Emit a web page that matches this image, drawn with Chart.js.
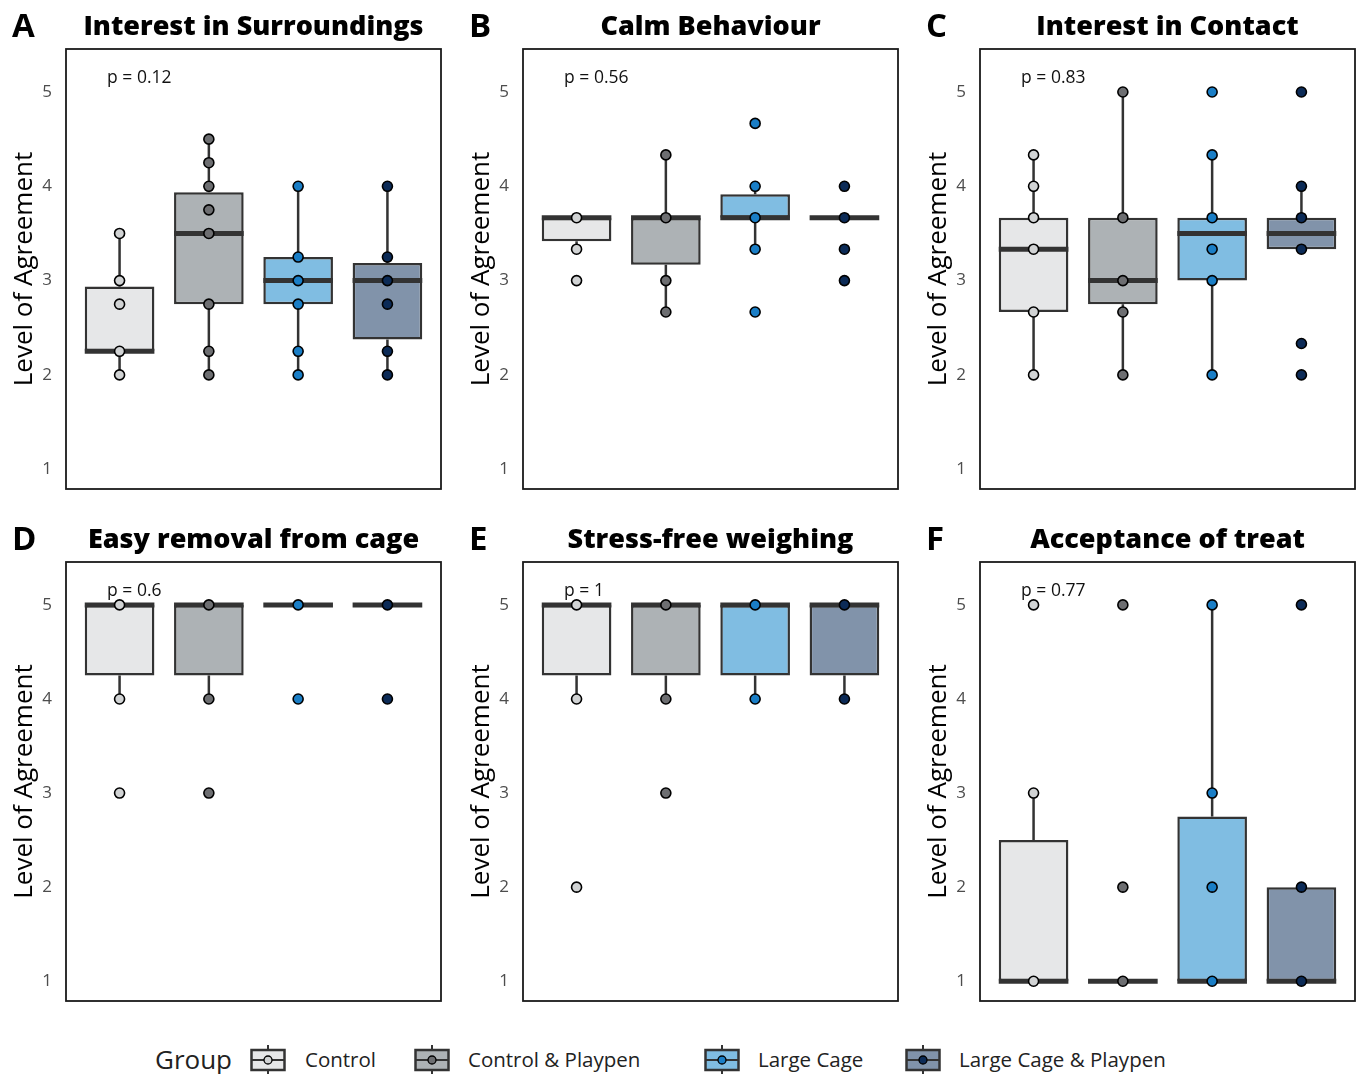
<!DOCTYPE html>
<html><head><meta charset="utf-8">
<script src="https://cdn.jsdelivr.net/npm/chart.js@4.4.1/dist/chart.umd.min.js"></script>
<style>
body{margin:0;background:#fff;}
#wrap{position:relative;width:1357px;height:1074px;overflow:hidden;font-family:"Open Sans",sans-serif;background:#fff;}
#wrap canvas{position:absolute;}
.letter{position:absolute;font-weight:700;font-size:33px;color:#000;line-height:1;}
.title{position:absolute;font-weight:800;font-size:27px;color:#000;text-align:center;line-height:1;white-space:nowrap;}
.lg{position:absolute;font-size:20.5px;color:#222;line-height:1;white-space:nowrap;}
.lgicon{position:absolute;}
</style></head>
<body><div id="wrap"></div>
<script>
// ---------- data ----------
const groups = ['Control', 'Control & Playpen', 'Large Cage', 'Large Cage & Playpen'];
const panelLetters = ['A', 'B', 'C', 'D', 'E', 'F'];
const panelTitles = ['Interest in Surroundings', 'Calm Behaviour', 'Interest in Contact',
                     'Easy removal from cage', 'Stress-free weighing', 'Acceptance of treat'];
const pLabels = ['p = 0.12', 'p = 0.56', 'p = 0.83', 'p = 0.6', 'p = 1', 'p = 0.77'];
const yTicks = [1, 2, 3, 4, 5];
const yAxisTitle = 'Level of Agreement';
const legendTitle = 'Group';

// box statistics per panel (A..F), one value per group
const boxQ1 = [
  [2.25, 2.75, 2.75, 2.375],
  [3.417, 3.167, 3.667, 3.667],
  [2.667, 2.75, 3.0, 3.333],
  [4.25, 4.25, 5, 5],
  [4.25, 4.25, 4.25, 4.25],
  [1, 1, 1, 1]
];
const boxMedian = [
  [2.25, 3.5, 3.0, 3.0],
  [3.667, 3.667, 3.667, 3.667],
  [3.333, 3.0, 3.5, 3.5],
  [5, 5, 5, 5],
  [5, 5, 5, 5],
  [1, 1, 1, 1]
];
const boxQ3 = [
  [2.9375, 3.9375, 3.25, 3.1875],
  [3.667, 3.667, 3.917, 3.667],
  [3.667, 3.667, 3.667, 3.667],
  [5, 5, 5, 5],
  [5, 5, 5, 5],
  [2.5, 1, 2.75, 2]
];
const whiskerLow = [
  [2, 2, 2, 2],
  [3.333, 2.667, 3.333, 3.667],
  [2, 2, 2, 3.333],
  [4, 4, 5, 5],
  [4, 4, 4, 4],
  [1, 1, 1, 1]
];
const whiskerHigh = [
  [3.5, 4.5, 4, 4],
  [3.667, 4.333, 4, 3.667],
  [4.333, 5, 4.333, 4],
  [5, 5, 5, 5],
  [5, 5, 5, 5],
  [3, 1, 5, 2]
];
// individual response points per panel, per group
const pointsA = [[3.5, 3, 2.75, 2.25, 2], [4.5, 4.25, 4, 3.75, 3.5, 2.75, 2.25, 2], [4, 3.25, 3, 2.75, 2.25, 2], [4, 3.25, 3, 2.75, 2.25, 2]];
const pointsB = [[3.667, 3.333, 3], [4.333, 3.667, 3, 2.667], [4.667, 4, 3.667, 3.333, 2.667], [4, 3.667, 3.333, 3]];
const pointsC = [[4.333, 4, 3.667, 3.333, 2.667, 2], [5, 3.667, 3, 2.667, 2], [5, 4.333, 3.667, 3.333, 3, 2], [5, 4, 3.667, 3.333, 2.333, 2]];
const pointsD = [[5, 4, 3], [5, 4, 3], [5, 4], [5, 4]];
const pointsE = [[5, 4, 2], [5, 4, 3], [5, 4], [5, 4]];
const pointsF = [[5, 3, 1], [5, 2, 1], [5, 3, 2, 1], [5, 2, 1]];
const panelPoints = [pointsA, pointsB, pointsC, pointsD, pointsE, pointsF];

// ---------- styles ----------
const boxFill = ['#e6e7e8', '#adb2b5', '#80bde2', '#8193aa'];
const pointFill = ['#d1d3d4', '#6d6e71', '#1a7ec6', '#0c2b57'];
const lineCol = '#333333';
const areaLefts = [66, 523, 980];
const areaRights = [441, 898, 1355];
const areaTops = [49, 562];
const areaBottoms = [489, 1001];
const yAxisW = 66;

const wrap = document.getElementById('wrap');

const boxPlugin = {
  id: 'boxExtras',
  beforeDatasetsDraw(chart, args, opts) {
    const k = opts.panel, xs = chart.scales.x, ys = chart.scales.y, ctx = chart.ctx;
    ctx.save();
    ctx.strokeStyle = lineCol; ctx.lineWidth = 2.5;
    groups.forEach((g, i) => {
      const px = xs.getPixelForValue(i + 1);
      ctx.beginPath();
      ctx.moveTo(px, ys.getPixelForValue(boxQ3[k][i]));
      ctx.lineTo(px, ys.getPixelForValue(whiskerHigh[k][i]));
      ctx.moveTo(px, ys.getPixelForValue(boxQ1[k][i]));
      ctx.lineTo(px, ys.getPixelForValue(whiskerLow[k][i]));
      ctx.stroke();
    });
    ctx.restore();
  },
  afterDatasetDraw(chart, args, opts) {
    if (args.meta.type !== 'bar') return;
    const k = opts.panel, ys = chart.scales.y, ctx = chart.ctx;
    ctx.save();
    ctx.strokeStyle = lineCol; ctx.lineWidth = 5; ctx.lineCap = 'butt';
    args.meta.data.forEach((el, i) => {
      const py = ys.getPixelForValue(boxMedian[k][i]);
      ctx.beginPath();
      ctx.moveTo(el.x - el.width / 2, py);
      ctx.lineTo(el.x + el.width / 2, py);
      ctx.stroke();
    });
    ctx.restore();
  },
  afterDraw(chart, args, opts) {
    const k = opts.panel, a = chart.chartArea, ctx = chart.ctx;
    ctx.save();
    ctx.strokeStyle = '#1a1a1a'; ctx.lineWidth = 1.8;
    ctx.strokeRect(a.left, a.top, a.right - a.left, a.bottom - a.top);
    ctx.fillStyle = '#111';
    ctx.font = '17.5px "Open Sans"';
    ctx.textAlign = 'left'; ctx.textBaseline = 'middle';
    ctx.fillText(pLabels[k], chart.scales.x.getPixelForValue(0.86), chart.scales.y.getPixelForValue(5.15));
    ctx.restore();
  }
};

panelTitles.forEach((title, k) => {
  const col = k % 3, row = Math.floor(k / 3);
  const cLeft = areaLefts[col] - yAxisW;
  const cTop = areaTops[row] - (row === 0 ? 49 : 52);
  const cW = areaRights[col] - cLeft + 2;
  const cH = areaBottoms[row] + 5 - cTop;
  const cv = document.createElement('canvas');
  cv.width = cW; cv.height = cH;
  cv.style.left = cLeft + 'px'; cv.style.top = cTop + 'px';
  cv.style.width = cW + 'px'; cv.style.height = cH + 'px';
  wrap.appendChild(cv);

  const lt = document.createElement('div');
  lt.className = 'letter'; lt.textContent = panelLetters[k];
  lt.style.left = (areaLefts[col] - 54) + 'px';
  lt.style.top = (areaTops[row] - 41) + 'px';
  wrap.appendChild(lt);

  const tt = document.createElement('div');
  tt.className = 'title'; tt.textContent = title;
  tt.style.left = areaLefts[col] + 'px';
  tt.style.width = (areaRights[col] - areaLefts[col]) + 'px';
  tt.style.top = (areaTops[row] - 38) + 'px';
  wrap.appendChild(tt);

  const scatterData = [];
  panelPoints[k].forEach((arr, gi) => arr.forEach(v => scatterData.push({ x: gi + 1, y: v, g: gi })));
  const barData = groups.map((g, gi) => ({ x: gi + 1, y: [boxQ1[k][gi], boxQ3[k][gi]] }));

  new Chart(cv, {
    type: 'bar',
    data: {
      datasets: [
        {
          type: 'scatter', label: 'points', data: scatterData,
          pointRadius: 5, pointBorderWidth: 1.6, pointBorderColor: '#000',
          pointBackgroundColor: ctx => pointFill[ctx.raw ? ctx.raw.g : 0],
          pointHoverRadius: 5
        },
        {
          type: 'bar', label: 'boxes', data: barData,
          backgroundColor: groups.map((g, gi) => boxFill[gi]),
          borderColor: lineCol, borderWidth: 2.5, borderSkipped: false,
          barPercentage: 0.78, categoryPercentage: 1.0
        }
      ]
    },
    options: {
      responsive: false, animation: false, events: [],
      layout: { autoPadding: false, padding: { left: 0, top: areaTops[row] - cTop, right: 2, bottom: 5 } },
      plugins: { legend: { display: false }, tooltip: { enabled: false }, boxExtras: { panel: k } },
      scales: {
        x: {
          type: 'linear', min: 0.4, max: 4.6, offset: false, display: false,
          afterBuildTicks: s => { s.ticks = groups.map((g, gi) => ({ value: gi + 1 })); }
        },
        y: {
          type: 'linear', min: 0.79, max: 5.456, beginAtZero: false,
          afterBuildTicks: s => { s.ticks = yTicks.map(v => ({ value: v })); },
          afterFit: s => { s.width = yAxisW; s.paddingTop = 0; s.paddingBottom = 0; },
          grid: { display: false, drawTicks: false },
          border: { display: false },
          ticks: { color: '#4d4d4d', font: { family: 'Open Sans', size: 17 }, padding: 14 },
          title: { display: true, text: yAxisTitle, color: '#000', font: { family: 'Open Sans', size: 26 }, padding: { top: 9, bottom: 0 } }
        }
      }
    },
    plugins: [boxPlugin]
  });
});

// ---------- legend ----------
const lgTitle = document.createElement('div');
lgTitle.className = 'lg'; lgTitle.textContent = legendTitle;
lgTitle.style.left = '155px'; lgTitle.style.top = '1046px'; lgTitle.style.fontSize = '26px';
wrap.appendChild(lgTitle);
const iconLefts = [250, 414, 704, 905];
const textLefts = [305, 468, 758, 959];
groups.forEach((g, gi) => {
  const ns = 'http://www.w3.org/2000/svg';
  const svg = document.createElementNS(ns, 'svg');
  svg.setAttribute('width', 36); svg.setAttribute('height', 30);
  svg.setAttribute('class', 'lgicon');
  svg.style.left = iconLefts[gi] + 'px'; svg.style.top = '1045px';
  svg.innerHTML =
    `<line x1="18" y1="0" x2="18" y2="30" stroke="${lineCol}" stroke-width="2"/>` +
    `<rect x="1.5" y="5" width="33" height="20" fill="${boxFill[gi]}" stroke="${lineCol}" stroke-width="2.5"/>` +
    `<line x1="1" y1="15" x2="35" y2="15" stroke="${lineCol}" stroke-width="2"/>` +
    `<circle cx="18" cy="15" r="4" fill="${pointFill[gi]}" stroke="#000" stroke-width="1.3"/>`;
  wrap.appendChild(svg);
  const t = document.createElement('div');
  t.className = 'lg'; t.textContent = g;
  t.style.left = textLefts[gi] + 'px'; t.style.top = '1049px';
  wrap.appendChild(t);
});
</script>
</body></html>
